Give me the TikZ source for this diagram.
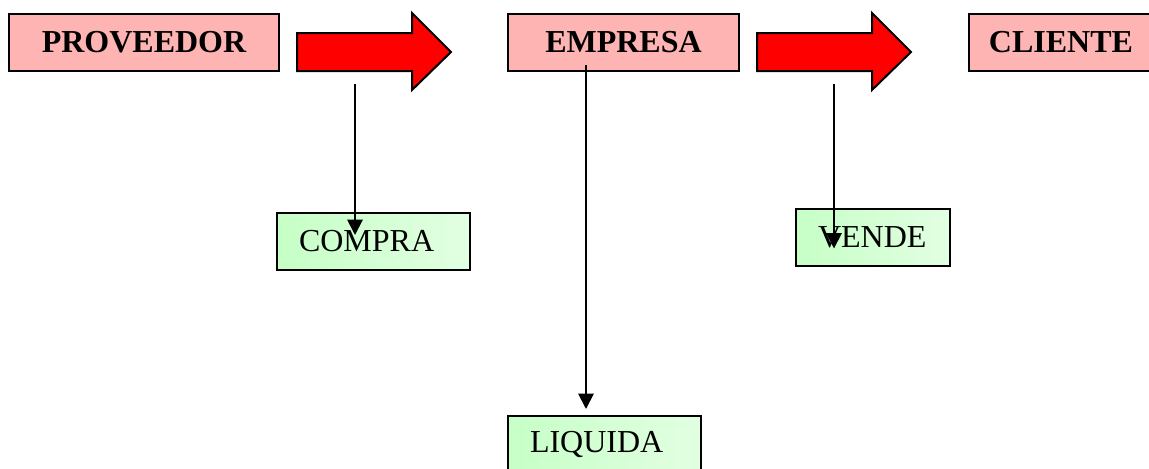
\documentclass[tikz,border=0pt]{standalone}
\usepackage{fontspec}
\setmainfont{Liberation Serif}
\usepackage{tikz}
\usetikzlibrary{calc, arrows.meta}
\definecolor{actorpink}{HTML}{FFB4B4}
\definecolor{taskgreenL}{HTML}{C6FFC6}
\definecolor{taskgreenR}{HTML}{E2FFE2}
\definecolor{flowred}{HTML}{FF0000}

\begin{document}
\begin{tikzpicture}[x=0.75pt, y=-0.75pt, font=\fontsize{24}{28}\selectfont,
            actor/.style={rectangle, fill=actorpink, draw=black, line width=1.5pt, minimum height=42.75pt, inner sep=0, font=\fontsize{24}{28}\selectfont\bfseries},
            task/.style={rectangle, left color=taskgreenL, right color=taskgreenR, draw=black, line width=1.5pt, minimum height=42.75pt, inner ysep=0, inner xsep=16.5pt, align=left},
            flow/.style={fill=flowred, draw=black, line width=1.5pt, line join=miter},
            link/.style={line width=1.4pt, -{Triangle[width=11.5pt, length=11.5pt]}}]
            \useasboundingbox (0,0) rectangle (1149,468);
            % Actors
            \foreach \x/\w/\lab/\name in {144/202.5/PROVEEDOR/prov, 623.5/173.25/EMPRESA/emp, 1061/138/CLIENTE/cli} {
                \node[actor, minimum width=\w pt] (\name) at (\x, 42.5) {\lab};
            }

            % Flow arrows
            \foreach \x in {297, 757} {
                \draw[flow] (\x,33) -- ++(115,0) -- ++(0,-20) -- ++(39,39) -- ++(-39,38) -- ++(0,-19) -- ++(-115,0) -- cycle;
            }
            \coordinate (buy) at (355,84);
            \coordinate (pay) at (586,65);
            \coordinate (sell) at (834,84);

            % Tasks
            \node[task, text width=111.75pt] (compra) at (373.5,241.5) {COMPRA};
            \node[task, text width=82.5pt] (vende) at (873,237) {VENDE};
            \node[task, text width=111.75pt] (liquida) at (604.5,444.5) {LIQUIDA};

            \draw[link] (buy) -- ($(buy |- compra.north)+(0,23)$);
            \draw[link] (pay) -- ($(pay |- liquida.north)+(0,-6)$);
            \draw[link] (sell) -- ($(sell |- vende.north)+(0,41)$);
        \end{tikzpicture}
\end{document}
